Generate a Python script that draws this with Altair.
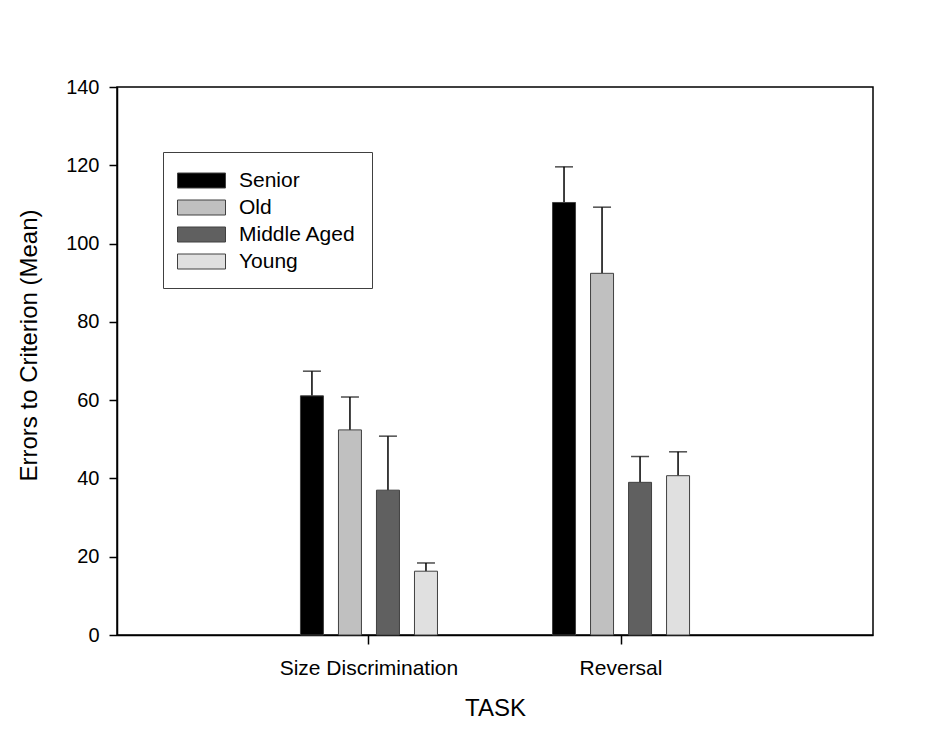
import altair as alt
import pandas as pd

tasks = ["Size Discrimination", "Reversal"]
groups = ["Senior", "Old", "Middle Aged", "Young"]
colors = ["#000000", "#c0c0c0", "#606060", "#e0e0e0"]

means_size = [61.1, 52.4, 37.0, 16.3]
errs_size = [6.3, 8.4, 13.8, 2.1]
means_rev = [110.5, 92.4, 39.0, 40.7]
errs_rev = [9.1, 16.9, 6.6, 6.1]

y_ticks = [0, 20, 40, 60, 80, 100, 120, 140]

rows = []
for t, ms, es in [(tasks[0], means_size, errs_size), (tasks[1], means_rev, errs_rev)]:
    for g, m, e in zip(groups, ms, es):
        rows.append({"TASK": t, "Group": g, "mean": m, "upper": m + e})
df = pd.DataFrame(rows)

FONT = "Liberation Sans"

x_enc = alt.X(
    "TASK:N",
    sort=tasks,
    title="TASK",
    scale=alt.Scale(paddingInner=0.397, paddingOuter=0.698),
    axis=alt.Axis(
        labelAngle=0, labelAlign="center", bandPosition=0.5,
        labelFontSize=21, labelColor="black", labelPadding=13,
        tickSize=9, tickColor="black", tickWidth=1.5,
        domainColor="black", domainWidth=1.5,
        titleFontSize=24, titleFontWeight="normal", titleColor="black", titlePadding=18,
        labelFont=FONT, titleFont=FONT,
    ),
)
xoff = alt.XOffset(
    "Group:N",
    sort=groups,
    scale=alt.Scale(domain=groups, paddingInner=0.395, paddingOuter=0.197),
)

y_axis = alt.Axis(
    values=y_ticks, grid=False, labelFontSize=20, labelColor="black",
    labelPadding=10, tickSize=8, tickColor="black", tickWidth=1.5,
    domainColor="black", domainWidth=1.5,
    titleFontSize=24, titleFontWeight="normal", titleColor="black",
    titlePadding=24, titleY=258, labelFont=FONT, titleFont=FONT,
)
y_scale = alt.Scale(domain=[0, 140], nice=False)

base = alt.Chart(df)

bars = base.mark_bar(stroke="#404040", strokeWidth=1).encode(
    x=x_enc,
    xOffset=xoff,
    y=alt.Y("mean:Q", title="Errors to Criterion (Mean)", scale=y_scale, axis=y_axis),
    fill=alt.Fill(
        "Group:N",
        sort=groups,
        scale=alt.Scale(domain=groups, range=colors),
        legend=alt.Legend(
            title=None,
            orient="none",
            legendX=46,
            legendY=65,
            direction="vertical",
            symbolType="M-2,-0.625H2V0.625H-2Z",
            symbolSize=576,
            symbolOffset=10,
            symbolStrokeColor="#404040",
            symbolStrokeWidth=1,
            labelFontSize=21,
            labelFont=FONT,
            labelColor="black",
            labelOffset=25,
            rowPadding=4,
            padding=16,
            strokeColor="#404040",
            fillColor="white",
            labelLimit=300,
        ),
    ),
)

rules = base.mark_rule(color="black", strokeWidth=1.5).encode(
    x=x_enc,
    xOffset=xoff,
    y=alt.Y("mean:Q", scale=y_scale, axis=y_axis, title="Errors to Criterion (Mean)"),
    y2="upper:Q",
)

caps = base.mark_tick(color="black", thickness=1.5, size=18, orient="horizontal").encode(
    x=x_enc,
    xOffset=xoff,
    y=alt.Y("upper:Q", scale=y_scale, axis=y_axis, title="Errors to Criterion (Mean)"),
)

chart = alt.layer(rules, bars, caps).properties(
    width=756,
    height=548,
    autosize=alt.AutoSizeParams(type="none"),
    padding={"left": 109, "top": 79, "right": 46, "bottom": 86},
    background="white",
).configure_view(
    stroke="black", strokeWidth=1.5
).configure_axis(
    labelFont=FONT, titleFont=FONT
)

chart.save("out.html", embed_options={"renderer": "svg", "actions": False})
